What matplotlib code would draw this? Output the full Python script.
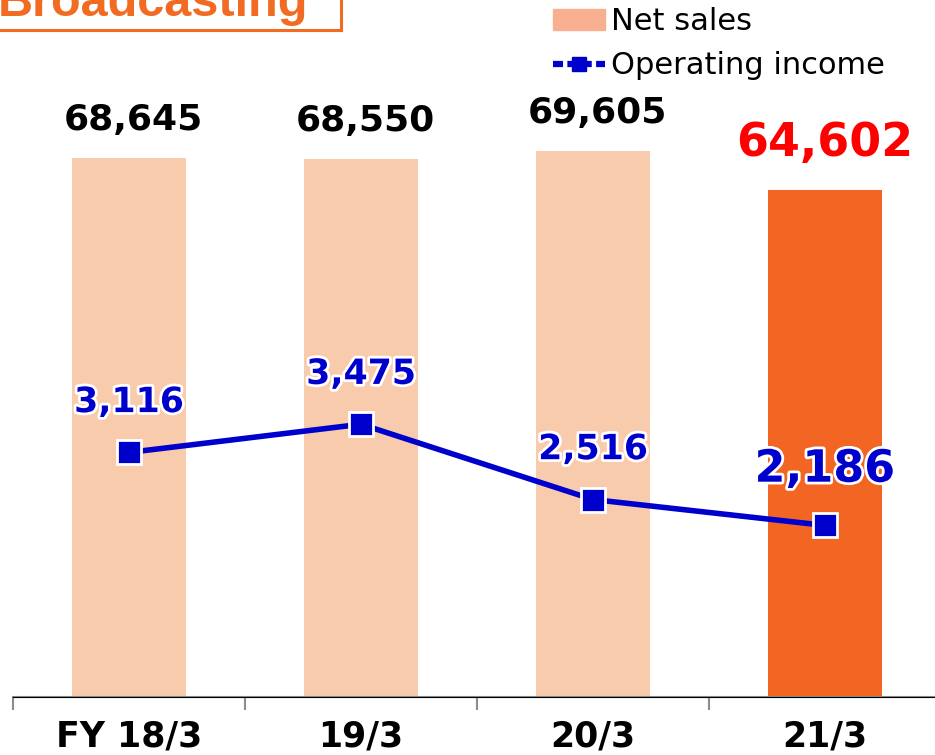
import numpy as np
import matplotlib; matplotlib.use("Agg")
import matplotlib.pyplot as plt
import matplotlib.patheffects as pe
from matplotlib.lines import Line2D
from matplotlib.patches import Patch, Rectangle

categories = ["FY 18/3", "19/3", "20/3", "21/3"]
net_sales = [68645, 68550, 69605, 64602]
op_income = [3116, 3475, 2516, 2186]

LIGHT = "#F8CBAD"; HILITE = "#F26522"; BLUE = "#0000CC"; ORANGE = "#F26B22"

fig = plt.figure(figsize=(9.35, 7.55), dpi=100)
ax = fig.add_axes([13/935, 1 - 697/755, 928/935, 697/755])
x = np.arange(len(categories))
colors = [LIGHT] * 3 + [HILITE]
ax.bar(x, net_sales, width=0.49, color=colors, zorder=1)
ax.set_xlim(-0.5, 3.5)
ax.set_ylim(0, 88800)

ax2 = ax.twinx()
ax2.set_ylim(0, 8880)
ax2.plot(x, op_income, color=BLUE, lw=4, marker="s", ms=17, mfc=BLUE, mec="white", mew=2, zorder=3)

glow = [pe.withStroke(linewidth=4, foreground="white")]
for i, v in enumerate(net_sales):
    last = i == len(net_sales) - 1
    ax.annotate(f"{v:,}", (i, v), xytext=(3 if not last else 0, 17 if last else 15), textcoords="offset points",
                ha="center", va="bottom", fontsize=33 if last else 26, fontweight="bold",
                color="#FF0000" if last else "black")
for i, v in enumerate(op_income):
    last = i == len(op_income) - 1
    ax2.annotate(f"{v:,}", (i, v), xytext=(0, 25 if last else 24), textcoords="offset points",
                 ha="center", va="bottom", fontsize=32 if last else 25, fontweight="bold",
                 color=BLUE, path_effects=glow, zorder=5)

for a in (ax, ax2):
    for s in ("left", "right", "top"):
        a.spines[s].set_visible(False)
    a.set_yticks([])
ax.spines["bottom"].set_color("#8c8c8c")
ax.spines["bottom"].set_linewidth(1.5)
ax.set_xticks(x)
ax.set_xticklabels(categories, fontsize=25, fontweight="bold")
ax.tick_params(axis="x", which="major", length=0, pad=16)
ax.set_xticks(np.arange(-0.5, 4, 1), minor=True)
ax.tick_params(axis="x", which="minor", length=9, color="#8c8c8c", width=1.5)

# title box, cut off at top
fig.patches.append(Rectangle((-0.02, 1 - 30/755), 341/935 + 0.02, 0.1, transform=fig.transFigure,
                             fill=False, edgecolor=ORANGE, lw=2.2))
fig.text(-2/935, 1 - 16/755, "Broadcasting", fontsize=35, fontweight="bold", color=ORANGE,
         family="Liberation Sans", va="baseline", ha="left")

handles = [Patch(color="#F8B090"),
           Line2D([], [], color=BLUE, lw=4.5, ls=(0, (1.6, 0.7)), marker="s", ms=10, mfc=BLUE, mec=BLUE)]
fig.legend(handles, ["Net sales", "Operating income"], loc="upper left", bbox_to_anchor=(538/935, 1.011),
           frameon=False, fontsize=22, handlelength=1.7, handletextpad=0.2, labelspacing=0.5, borderpad=0)

fig.savefig("out.png", dpi=100)
